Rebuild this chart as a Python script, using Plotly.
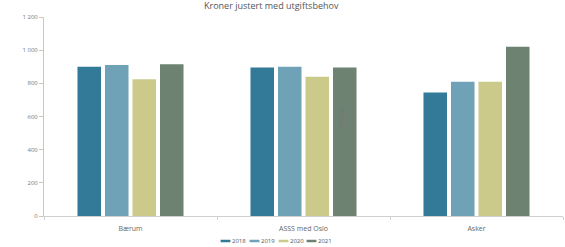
import plotly.graph_objects as go

categories = ["Bærum", "ASSS med Oslo", "Asker"]
years = ["2018", "2019", "2020", "2021"]
values_2018 = [900, 895, 745]
values_2019 = [910, 900, 810]
values_2020 = [825, 840, 810]
values_2021 = [915, 895, 1020]
series = [values_2018, values_2019, values_2020, values_2021]
colors = ["#337a98", "#6fa2b6", "#cbca8a", "#6d8270"]
title_text = "Kroner justert med utgiftsbehov"
y_ticks = [0, 200, 400, 600, 800, 1000, 1200]

W, H = 565, 247
legend_marker_px = [225.5, 254.5, 283.5, 311.5]   # centres of the short legend lines
legend_text_px = [232, 261, 290, 318]             # left edges of the legend labels
legend_y_px = 241

fig = go.Figure()
for yr, vals, col in zip(years, series, colors):
    fig.add_trace(go.Bar(x=categories, y=vals, name=yr, marker_color=col,
                         marker_line_width=0, showlegend=False))

legends = {}
for i, (yr, col) in enumerate(zip(years, colors)):
    lm = "legend%d" % (2 * i + 2)
    lt = "legend%d" % (2 * i + 3)
    fig.add_trace(go.Scatter(x=[None], y=[None], mode="markers", name=" ",
                             legend=lm,
                             marker=dict(symbol="line-ew-open", size=7, color=col,
                                         line=dict(color=col, width=2.5))))
    fig.add_trace(go.Scatter(x=[None], y=[None], mode="markers", name=yr,
                             legend=lt,
                             marker=dict(size=1, color="rgba(0,0,0,0)")))
    common = dict(xref="container", yref="container", yanchor="middle",
                  y=1 - legend_y_px / H, bgcolor="rgba(0,0,0,0)",
                  font=dict(size=6, color="#555555"), itemwidth=30)
    legends[lm] = dict(common, x=(legend_marker_px[i] - 20) / W, xanchor="left")
    legends[lt] = dict(common, x=(legend_text_px[i] - 40) / W, xanchor="left")

fig.update_layout(
    width=W, height=H,
    margin=dict(l=44, r=2, t=17, b=31, autoexpand=False),
    paper_bgcolor="white", plot_bgcolor="white",
    font=dict(family="Open Sans", size=7, color="#666666"),
    separators=", ",
    bargap=0.364, bargroupgap=0.145, barmode="group",
    title=dict(text=title_text, x=0.48, xanchor="center", y=0.99, yanchor="top",
               pad=dict(t=0), font=dict(size=9, color="#555555")),
    showlegend=True,
    xaxis=dict(showline=True, linecolor="#d0d0d0", linewidth=1, ticks="outside",
               tickson="boundaries", ticklen=3, tickcolor="#d0d0d0",
               ticklabelstandoff=6,
               showgrid=False, tickfont=dict(size=7, color="#666666")),
    yaxis=dict(range=[0, 1200], tickvals=y_ticks, tickformat=",d",
               showline=True, linecolor="#c8c8c8", linewidth=1, ticks="outside",
               ticklen=4, tickcolor="#c8c8c8", showgrid=False, zeroline=False,
               title=dict(text="Kroner", font=dict(size=7, color="#777777"), standoff=8),
               tickfont=dict(size=6, color="#777777")),
    **legends,
)

fig.write_html("out.html", config={"displayModeBar": False},
               post_script="document.body.style.margin='0';")
